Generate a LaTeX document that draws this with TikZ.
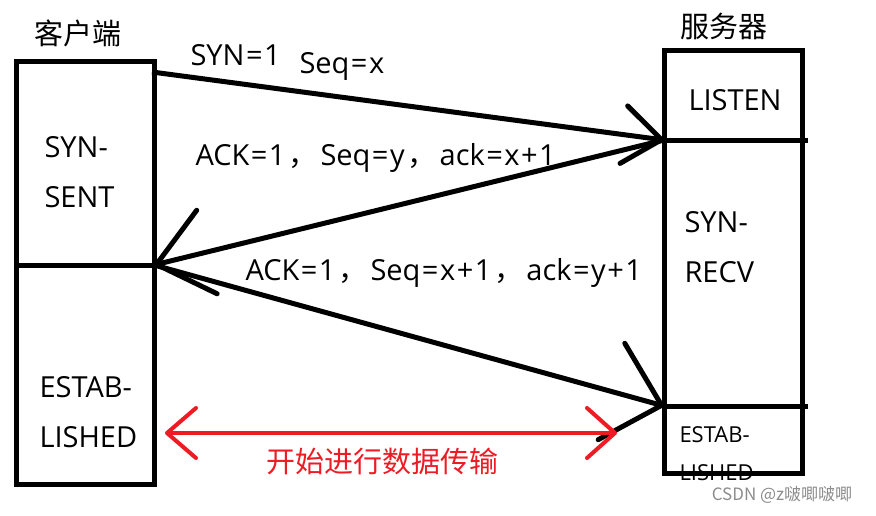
\documentclass[tikz,border=0pt]{standalone}
\usepackage{fontspec}
\setmainfont{Open Sans}
\newfontfamily\cjk{Noto Sans CJK SC}
\usetikzlibrary{arrows.meta}
\definecolor{paintred}{RGB}{237,28,36}
\newcommand{\dou}{\kern3pt{\cjk ，}\kern3pt}
\newcommand{\eq}{\kern1.5pt=\kern1.5pt}
\newcommand{\pl}{\kern1.5pt+\kern1.5pt}

\begin{document}
\begin{tikzpicture}[x=1pt, y=-1pt, line width=5pt,
  state/.style={draw, rectangle, inner sep=0pt, outer sep=0pt, minimum width=138pt},
  lbl/.style={anchor=base west, inner sep=0pt, font=\fontsize{29}{34}\selectfont},
  tiny/.style={anchor=base west, inner sep=0pt, font=\fontsize{22}{26}\selectfont},
  side/.style={inner sep=0pt, font=\cjk\fontsize{29}{34}\selectfont}]
  \useasboundingbox (0,0) rectangle (876,515);

  % client
  \node[side] (client) at (78,33) {客户端};
  \node[state, minimum height=204pt] (synsent) at (85,163) {};
  \node[state, minimum height=219pt] (estabc) at (85,374.5) {};
  \node[lbl] (t1) at (42,157) {SYN-};
  \node[lbl] (t2) at (42,207) {SENT};
  \node[lbl] (t3) at (37,397) {ESTAB-};
  \node[lbl] (t4) at (37,447) {LISHED};

  % server
  \node[side] (server) at (724,26) {服务器};
  \node[state, minimum height=90pt] (listen) at (733,95) {};
  \node[state, minimum height=266pt] (recv) at (733,273) {};
  \node[tiny] (t8) at (677,442) {ESTAB-};
  \node[tiny] (t9) at (677,480) {LISHED};
  \node[state, minimum height=67pt] (estabs) at (733,439.5) {};
  \draw (listen.south east) -- ++(6,0);
  \draw (recv.south east) -- ++(6,0);
  \node[lbl] (t5) at (686,110) {LISTEN};
  \node[lbl] (t6) at (682,232) {SYN-};
  \node[lbl] (t7) at (682,282) {RECV};

  % handshake
  \coordinate (syn) at (152,72);
  \draw[-{Straight Barb[length=38pt, width=58pt, round]}] (syn) -- (listen.south west);
  \draw[-{Straight Barb[length=52pt, width=86pt, round]}] (listen.south west) -- (synsent.south east);
  \draw[-{Straight Barb[length=52pt, width=100pt, round]}] (synsent.south east) -- (recv.south west);
  \node[lbl] (m1) at (188,65) {SYN\eq 1};
  \node[lbl] (m2) at (297,73) {Seq\eq x};
  \node[lbl] (m3) at (193,165) {ACK\eq 1\dou Seq\eq y\dou ack\eq x\pl 1};
  \node[lbl] (m4) at (243,280) {ACK\eq 1\dou Seq\eq x\pl 1\dou ack\eq y\pl 1};

  % data
  \coordinate (dl) at (165,433);
  \coordinate (dr) at (617,433);
  \draw[paintred, line width=4pt, {Straight Barb[length=29pt, width=50pt, round]}-{Straight Barb[length=28pt, width=50pt, round]}] (dl) -- (dr);
  \node[side, text=paintred] (data) at (382,461) {开始进行数据传输};

  \node[inner sep=0pt, text=black!45, font=\cjk\fontsize{17}{20}\selectfont] (mark) at (782,495) {CSDN @z啵唧啵唧};
\end{tikzpicture}
\end{document}
